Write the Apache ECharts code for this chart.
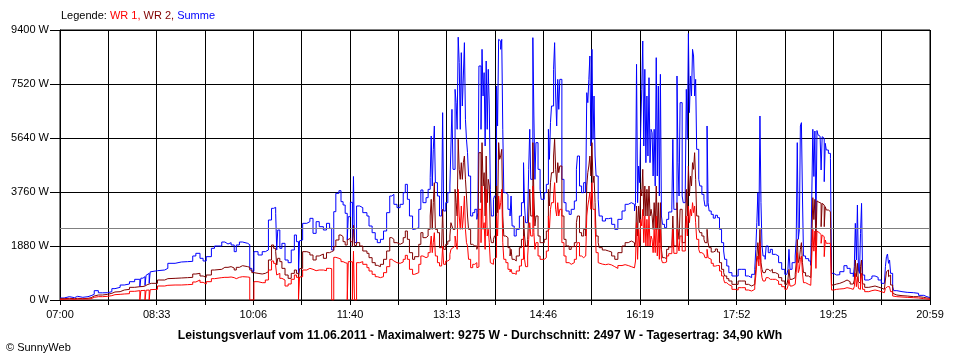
<!DOCTYPE html>
<html><head><meta charset="utf-8">
<script src="https://cdn.jsdelivr.net/npm/echarts@6/dist/echarts.min.js"></script>
<style>html,body{margin:0;padding:0;background:#fff}#c{width:960px;height:360px}</style>
</head><body><div id="c"></div>
<script>
const timeLabels = ['07:00','08:33','10:06','11:40','13:13','14:46','16:19','17:52','19:25','20:59'];
const average = 2497;

const times = [
'07:00','07:04','07:09','07:14','07:17','07:22','07:27','07:30','07:33','07:37',
'07:41','07:46','07:50','07:53','07:58','08:02','08:07','08:12','08:17','08:18',
'08:20','08:22','08:23','08:24','08:26','08:27','08:28','08:34','08:41','08:44',
'08:51','08:57','09:03','09:08','09:11','09:15','09:18','09:21','09:26','09:29',
'09:36','09:39','09:42','09:45','09:48','09:50','09:53','09:56','10:01','10:03',
'10:05','10:07','10:11','10:15','10:18','10:21','10:24','10:26','10:28','10:29',
'10:30','10:32','10:34','10:37','10:40','10:43','10:46','10:48','10:50','10:51',
'10:52','10:54','10:58','11:01','11:04','11:07','11:10','11:14','11:17','11:20',
'11:22','11:24','11:26','11:29','11:31','11:33','11:35','11:37','11:38','11:40',
'11:42','11:43','11:44',
'11:46','11:49','11:52','11:56','11:58','12:01','12:04','12:06','12:09','12:12',
'12:15','12:18','12:20','12:22','12:25','12:28','12:31','12:33','12:35','12:37',
'12:40','12:42','12:46','12:48','12:50','12:53','12:55','12:57','12:58','12:59',
'13:00','13:01','13:02','13:04','13:06','13:08','13:09','13:10','13:12','13:14',
'13:16','13:17','13:18','13:19','13:21','13:22','13:23','13:24','13:25','13:26',
'13:27','13:28','13:29','13:30','13:31','13:32','13:33','13:34','13:36','13:38',
'13:40',
'13:42','13:43','13:44','13:46','13:47','13:48','13:49','13:50','13:51','13:52',
'13:53','13:54','13:55','13:56','13:58','13:59','14:01','14:02','14:03','14:04',
'14:05','14:06','14:07','14:08','14:10','14:12','14:14','14:15','14:16','14:18',
'14:20','14:23','14:25','14:27','14:28','14:29','14:31','14:32','14:33','14:34',
'14:36','14:37','14:38','14:39','14:41','14:43','14:44','14:47','14:49','14:51',
'14:52','14:53','14:54','14:56','14:57','14:58','14:59','15:00','15:01','15:02',
'15:04','15:06','15:08','15:11','15:13','15:16','15:18','15:19','15:21','15:23',
'15:25','15:27','15:28','15:29','15:30','15:31','15:32','15:33','15:34','15:35',
'15:36',
'15:37','15:39','15:40','15:43','15:46','15:49','15:52','15:55','15:58','16:02',
'16:05','16:08','16:11','16:14','16:15','16:16','16:17','16:18','16:19','16:20',
'16:21','16:22','16:23','16:24','16:25','16:26','16:27','16:28','16:29','16:30',
'16:31','16:32','16:33','16:34','16:35','16:36','16:37','16:38','16:39','16:40',
'16:41','16:43','16:45','16:47','16:50','16:51','16:52','16:53','16:55','16:56',
'16:57','16:58','17:00','17:01','17:03','17:04','17:05','17:06','17:07','17:08',
'17:09','17:10','17:11','17:12','17:13','17:14','17:16','17:17','17:19','17:21',
'17:22','17:24','17:25','17:26','17:28','17:30',
'17:32','17:34','17:36','17:38','17:40','17:41','17:43','17:45','17:48','17:51',
'17:54','17:57','18:01','18:04','18:07','18:10','18:11','18:12','18:13','18:14',
'18:15','18:16','18:17','18:18','18:20','18:21','18:23','18:25','18:27','18:30',
'18:33','18:36','18:39','18:41','18:42','18:43','18:44','18:46','18:49','18:50',
'18:51','18:52','18:53','18:54','18:55','18:56','18:57','18:59','19:02','19:04',
'19:05','19:06','19:07','19:08','19:09','19:10','19:11','19:12','19:13',
'19:14','19:15','19:16','19:17','19:18','19:19','19:21','19:23','19:24','19:26',
'19:29','19:32','19:36','19:39','19:42','19:45','19:46','19:47','19:48','19:49',
'19:50','19:51','19:52','19:53','19:54','19:56','20:00','20:03','20:06','20:09',
'20:12','20:15','20:16','20:17','20:18','20:19','20:20','20:21','20:23','20:24',
'20:27','20:32','20:37','20:43','20:48','20:53','20:56','20:59'
];

const summe = [
70,116,81,128,93,116,151,197,325,250,
255,290,395,441,522,557,638,720,464,760,
812,511,860,928,580,980,1021,1044,1102,1277,
1323,1335,1346,1532,1625,1451,1358,1509,1799,1880,
2019,1950,1995,1915,1683,1915,2019,1973,1926,1100,
1000,1683,1567,1683,1741,2785,3191,3226,3017,1741,
2437,1799,1973,1393,1300,1741,2263,2031,800,2060,
2089,2669,2727,2843,2321,2727,2553,2437,2669,2495,
1741,3075,3714,3806,3423,3307,3017,2089,2901,3400,
1860,4300,2000,
3273,3215,3041,2924,2576,2344,2112,1996,2112,2402,
3041,3621,3679,3331,3215,3331,3737,4027,3505,2924,
2460,2518,3157,3830,3389,3563,3853,4259,5710,3969,
5245,6058,4085,3621,2924,3157,6522,3099,3389,3737,
3969,5361,6638,4549,7334,6870,5942,9150,8263,5942,
8611,6754,7799,8959,6290,5594,5129,4317,2924,3041,
3157,
2808,3041,8147,5942,8727,7102,7915,5361,8321,5942,
8031,6754,3853,2924,3505,3621,7450,6058,9075,9017,
8727,9075,5942,3737,3679,3157,2924,3621,2576,2228,
2460,2924,3389,4781,3273,2692,2924,4549,5942,4201,
9133,6406,4201,5478,4549,3853,3505,3737,4027,5942,
4897,6174,6754,8031,8959,7102,6058,7682,6638,7682,
4201,3389,3099,2982,3157,3447,4549,5013,3969,3737,
4085,3737,7218,6870,7682,8495,5361,8727,5594,7102,
5013,
4317,3505,2924,2750,2832,2855,2634,2460,2808,3099,
3331,3389,3331,3099,3389,8205,3389,4665,4085,5942,
7334,9017,5361,8031,4781,7102,5013,7740,4781,5942,
5826,4317,5942,3969,8437,4317,7450,3621,7857,2924,
2634,2518,2808,3064,3157,5594,3157,3157,7799,4781,
3621,6870,3621,3389,3853,7334,5594,9275,6522,7799,
7102,8727,8495,7102,7682,5245,4201,3969,3679,3505,
3273,6058,3389,3099,2982,2850,
2950,2866,2460,1996,1706,1416,1184,952,836,836,
1068,1068,836,778,894,1068,1764,2692,3737,2576,
6406,3389,1880,1532,1416,1880,1648,1764,1590,1532,
1300,1068,894,836,1068,1764,1068,1300,1532,2112,
5478,2112,2460,6058,6174,3621,1532,1439,1358,1207,
3621,5942,4300,5884,2600,5900,5750,5700,5650,
4526,5686,5628,4120,5454,5222,5106,4932,928,870,
882,986,1195,1102,928,812,1160,2669,1393,3307,
1044,928,2321,3365,870,696,754,836,789,696,
580,522,1160,1509,1601,1277,1393,928,464,325,
290,267,255,232,162,116,81,58
];

const wr2 = [
46,58,46,58,46,58,81,139,174,174,
197,232,279,290,348,371,441,464,464,470,
487,511,530,557,580,580,580,696,743,754,
766,778,789,905,928,836,789,870,1044,1068,
1137,1137,1161,1114,1044,1137,1195,1161,1137,1044,
952,928,905,928,986,1393,1915,1799,1683,1219,
1451,1335,1102,870,754,928,1044,928,754,1090,
1102,1683,1648,1567,1393,1532,1601,1451,1648,1683,
1718,1857,2089,2263,2205,2031,1915,2089,2147,2030,
1857,2600,1900,
1996,1880,1706,1625,1474,1300,1207,1161,1242,1416,
1706,2170,2112,1996,1938,1996,2170,2402,2112,1648,
1416,1509,1938,2344,2170,2228,2460,2924,3505,2460,
3389,4085,2460,2344,1822,1764,3157,1764,1938,2054,
2228,2692,2576,2460,3853,3389,2924,5594,4549,4201,
4781,4201,4781,5013,4201,3621,2924,2460,1938,1880,
1880,
1764,1900,5129,3389,5478,3969,4433,2924,5013,3389,
4201,3969,2228,1996,2112,2228,3969,3041,5478,4897,
5013,5245,2924,2228,2170,1822,1532,1764,1416,1358,
1532,1822,2112,2924,2228,1880,2112,2924,3853,2924,
5478,3621,2576,2924,2228,1996,1996,2112,2402,3853,
3273,4085,4433,5013,5594,4549,4085,4781,4433,4665,
2924,2112,1880,1764,1857,1996,2692,2924,2344,2228,
2460,2228,3969,4433,4665,5013,4317,5478,4085,4317,
3389,
2228,1996,1822,1741,1706,1671,1532,1416,1648,1880,
1996,2054,1996,1880,1996,3273,2228,3273,2692,3853,
3621,4549,2924,3969,2924,3853,2924,3969,2924,3157,
2924,2460,3389,2460,3969,2460,3389,1996,3389,1764,
1474,1439,1764,1845,1880,2924,1880,1880,3389,2460,
2112,3157,1996,1996,2460,3853,2924,4665,3621,4317,
3969,4781,4549,5129,4201,2924,2460,2344,2228,2112,
1996,2460,1996,1822,1671,1700,
1776,1671,1300,1068,952,836,743,661,545,545,
661,661,545,487,545,661,1068,1532,1996,1416,
2460,1300,1068,952,894,1068,1010,1068,952,894,
778,661,545,511,720,1068,720,778,894,1300,
2112,1300,1416,1764,1996,1300,952,836,778,720,
1996,3563,2800,3505,1900,3450,3400,3390,3370,
2553,3365,3307,2553,3249,3133,3075,2959,522,557,
580,638,696,638,557,522,696,1393,812,1277,
638,580,1160,1393,557,441,464,487,453,418,
371,348,696,986,1044,812,870,522,232,174,
151,139,116,116,93,70,58,35
];

const wr1 = [
23,35,23,35,35,35,46,93,116,116,
128,151,186,197,209,220,302,325,0,330,
337,0,340,348,0,360,371,487,511,522,
522,534,545,627,696,615,557,638,743,778,
789,789,801,778,743,789,812,801,789,0,
0,638,603,603,696,1044,1358,1277,1184,870,
928,754,696,487,557,720,870,789,0,800,
812,1044,1102,1068,1021,1044,1044,1021,1102,1091,
0,1485,1451,1416,1335,1300,1277,0,1335,1330,
0,1700,0,
1300,1335,1242,1126,1010,894,812,778,812,952,
1161,1416,1358,1300,1277,1323,1416,1555,1416,1068,
894,952,1242,1532,1474,1509,1648,1880,2228,1648,
1996,2344,1532,1300,1184,1161,1880,1242,1358,1416,
1590,1764,1822,1880,2228,1996,1764,3853,2924,2460,
3273,2460,2924,3621,2460,1996,1880,1416,1126,1242,
1300,
1126,1150,3157,1996,3969,2460,2692,1764,3853,2228,
2460,1996,1300,1242,1416,1474,2924,2228,3621,3157,
3389,3853,1996,1416,1300,1068,975,1068,928,894,
1010,1184,1416,2228,1416,1161,1532,2112,2692,2228,
3969,2344,1764,1996,1532,1416,1416,1474,1706,2924,
2460,3157,3389,3621,4085,3157,2924,3389,2924,3157,
1996,1532,1300,1242,1300,1416,1880,1996,1532,1474,
1532,1474,2924,3273,3505,3737,3157,4085,3157,3157,
2692,
1648,1300,1250,1230,1250,1220,1160,1100,1200,1230,
1200,1160,1120,1160,1358,2692,1416,2460,1880,2808,
2576,3157,1996,2924,1880,2808,1880,2924,1880,2228,
2112,1648,2460,1648,2924,1532,2460,1416,2460,1416,
1300,1323,1532,1613,1625,2460,1625,1625,2460,1880,
1706,2228,1706,1706,1996,2924,2228,3273,2692,3157,
2924,3389,3041,3273,2692,2112,1764,1648,1590,1532,
1474,1764,1474,1416,1277,1180,
1200,1200,1010,836,720,603,534,487,371,348,
429,429,348,313,371,487,836,1300,1532,1184,
1996,1068,778,661,603,778,720,720,720,661,
545,464,371,348,487,720,487,545,603,952,
1648,952,1068,1416,1532,952,603,545,511,487,
1532,2460,1700,2402,1100,2400,2350,2300,2280,
1973,2263,2205,1509,2089,1973,1973,1857,348,371,
383,395,429,406,371,348,464,928,464,812,
406,371,696,928,371,290,325,348,325,290,
255,232,406,464,522,464,464,290,139,116,
104,93,81,70,46,35,23,23
];

const FONT = 'Liberation Sans, Arial, sans-serif';
const span = 839;              // 07:00 .. 20:59 in minutes
const tickStep = span / 18;    // 18 vertical grid intervals
const toMin = s => { const p = s.split(':'); return (+p[0] - 7) * 60 + (+p[1]); };
const pairs = vals => times.map((t, i) => [toMin(t), vals[i]]);

const chart = echarts.init(document.getElementById('c'), null, {renderer: 'canvas'});
chart.setOption({
  animation: false,
  backgroundColor: '#ffffff',
  textStyle: {fontFamily: FONT},
  title: [
    {
      text: '{k|Legende: }{r|WR 1, }{d|WR 2, }{b|Summe}',
      left: 61, top: 10, padding: 0,
      textStyle: {
        fontSize: 11, fontFamily: FONT, fontWeight: 'normal',
        rich: {
          k: {color: '#000000', fontSize: 11, fontFamily: FONT},
          r: {color: '#ff0000', fontSize: 11, fontFamily: FONT},
          d: {color: '#800000', fontSize: 11, fontFamily: FONT},
          b: {color: '#0000ff', fontSize: 11, fontFamily: FONT}
        }
      }
    },
    {
      text: 'Leistungsverlauf vom 11.06.2011 - Maximalwert: 9275 W - Durchschnitt: 2497 W - Tagesertrag: 34,90 kWh',
      left: 'center', top: 330, padding: 0,
      textStyle: {fontSize: 12.2, fontWeight: 'bold', color: '#000000', fontFamily: FONT}
    },
    {
      text: '© SunnyWeb',
      left: 6, top: 342, padding: 0,
      textStyle: {fontSize: 11, fontWeight: 'normal', color: '#000000', fontFamily: FONT}
    }
  ],
  grid: {left: 60, right: 30, top: 30, bottom: 60, show: true, borderColor: '#000000', borderWidth: 1, backgroundColor: 'transparent'},
  xAxis: {
    type: 'value', min: 0, max: span, interval: tickStep,
    axisLine: {show: true, lineStyle: {color: '#000000', width: 1}},
    axisTick: {show: true, length: 5, lineStyle: {color: '#000000', width: 1}},
    axisLabel: {
      margin: 9, color: '#000000', fontSize: 11, fontFamily: FONT,
      showMinLabel: true, showMaxLabel: true, hideOverlap: false,
      formatter: v => { const i = Math.round(v / tickStep); return i % 2 === 0 ? (timeLabels[i / 2] || '') : ''; }
    },
    splitLine: {show: true, lineStyle: {color: '#000000', width: 1}}
  },
  yAxis: {
    type: 'value', min: 0, max: 9400, interval: 1880,
    axisLine: {show: true, lineStyle: {color: '#000000', width: 1}},
    axisTick: {show: true, length: 10, lineStyle: {color: '#000000', width: 1}},
    axisLabel: {margin: 11, color: '#000000', fontSize: 11, fontFamily: FONT, formatter: v => v + ' W'},
    splitLine: {show: true, lineStyle: {color: '#000000', width: 1}}
  },
  series: [
    {name: 'Summe', type: 'line', step: 'end', symbol: 'none', data: pairs(summe),
     lineStyle: {color: '#0000ff', width: 1}, itemStyle: {color: '#0000ff'}, z: 2},
    {name: 'WR 2', type: 'line', step: 'end', symbol: 'none', data: pairs(wr2),
     lineStyle: {color: '#800000', width: 1}, itemStyle: {color: '#800000'}, z: 3},
    {name: 'WR 1', type: 'line', step: 'end', symbol: 'none', data: pairs(wr1),
     lineStyle: {color: '#ff0000', width: 1}, itemStyle: {color: '#ff0000'}, z: 4,
     markLine: {silent: true, symbol: ['none', 'none'], label: {show: false},
       lineStyle: {color: '#808080', type: 'solid', width: 1}, data: [{yAxis: average}]}}
  ]
});
</script>
</body></html>
